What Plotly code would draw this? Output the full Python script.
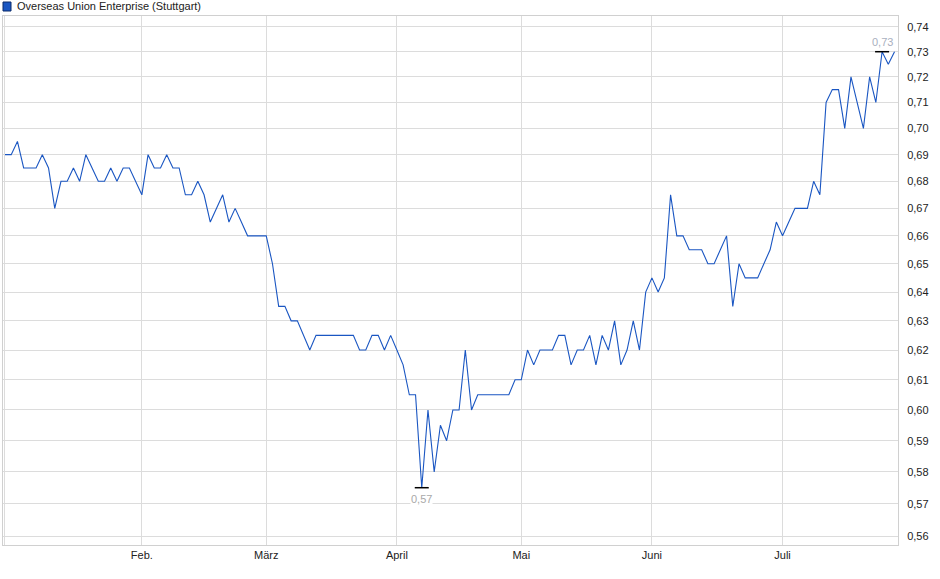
import math
import plotly.graph_objects as go

title = "Overseas Union Enterprise (Stuttgart)"

prices = [
    0.69, 0.69, 0.695, 0.685, 0.685, 0.685, 0.69, 0.685, 0.67, 0.68,
    0.68, 0.685, 0.68, 0.69, 0.685, 0.68, 0.68, 0.685, 0.68, 0.685,
    0.685, 0.68, 0.675, 0.69, 0.685, 0.685, 0.69, 0.685, 0.685, 0.675,
    0.675, 0.68, 0.675, 0.665, 0.67, 0.675, 0.665, 0.67, 0.665, 0.66,
    0.66, 0.66, 0.66, 0.65, 0.635, 0.635, 0.63, 0.63, 0.625, 0.62,
    0.625, 0.625, 0.625, 0.625, 0.625, 0.625, 0.625, 0.62, 0.62, 0.625,
    0.625, 0.62, 0.625, 0.62, 0.615, 0.605, 0.605, 0.575, 0.60, 0.58,
    0.595, 0.59, 0.60, 0.60, 0.62, 0.60, 0.605, 0.605, 0.605, 0.605,
    0.605, 0.605, 0.61, 0.61, 0.62, 0.615, 0.62, 0.62, 0.62, 0.625,
    0.625, 0.615, 0.62, 0.62, 0.625, 0.615, 0.625, 0.62, 0.63, 0.615,
    0.62, 0.63, 0.62, 0.64, 0.645, 0.64, 0.645, 0.675, 0.66, 0.66,
    0.655, 0.655, 0.655, 0.65, 0.65, 0.655, 0.66, 0.635, 0.65, 0.645,
    0.645, 0.645, 0.65, 0.655, 0.665, 0.66, 0.665, 0.67, 0.67, 0.67,
    0.68, 0.675, 0.71, 0.715, 0.715, 0.70, 0.72, 0.71, 0.70, 0.72,
    0.71, 0.73, 0.725, 0.73,
]

month_labels = ["", "Feb.", "März", "April", "Mai", "Juni", "Juli"]
month_start_idx = [0, 22, 42, 63, 83, 104, 125]

y_ticks = [0.56, 0.57, 0.58, 0.59, 0.60, 0.61, 0.62, 0.63, 0.64, 0.65,
           0.66, 0.67, 0.68, 0.69, 0.70, 0.71, 0.72, 0.73, 0.74]

x = list(range(len(prices)))
pmin = min(prices)
pmax = max(prices)
imin = prices.index(pmin)
imax = prices.index(pmax)

LINE = "#1a56c2"
GRID = "#dcdcdc"
FONT = "Liberation Sans, Arial, sans-serif"

fig = go.Figure()
fig.add_trace(go.Scatter(
    x=x, y=prices, mode="lines",
    line=dict(color=LINE, width=1.1),
    showlegend=False, hoverinfo="skip",
))
fig.add_trace(go.Scatter(
    x=[imin, imax], y=[pmin, pmax], mode="markers",
    marker=dict(symbol="line-ew", size=10, color="black",
                line=dict(color="black", width=1.5)),
    showlegend=False, hoverinfo="skip",
))

def fmt(v):
    return f"{v:.2f}".replace(".", ",")

fig.add_annotation(x=imin, y=math.log10(pmin), text=fmt(pmin), showarrow=False,
                   yshift=-11, font=dict(family=FONT, size=11, color="#a9a9a9"),
                   bgcolor="white", borderpad=0)
fig.add_annotation(x=imax, y=math.log10(pmax), text=fmt(pmax), showarrow=False,
                   yshift=10, font=dict(family=FONT, size=11, color="#a9b0c0"),
                   bgcolor="white", borderpad=0)

# legend-like header
fig.add_shape(type="rect", xref="paper", yref="paper",
              x0=0.0, x1=8 / 895, y0=1 + 5 / 529, y1=1 + 14 / 529,
              fillcolor="#1a56c2", line=dict(color="#0a2a6a", width=1))
fig.add_annotation(xref="paper", yref="paper", x=12 / 895, y=1 + 9.5 / 529,
                   text=title, showarrow=False, xanchor="left", yanchor="middle",
                   font=dict(family=FONT, size=11, color="#222222"))

fig.update_layout(
    width=940, height=579,
    margin=dict(l=3, r=42, t=16, b=34, autoexpand=False),
    paper_bgcolor="white", plot_bgcolor="white",
    separators=",.",
    font=dict(family=FONT, size=11, color="#222222"),
    xaxis=dict(
        range=[-0.32, 143.56], automargin=False,
        tickmode="array", tickvals=month_start_idx, ticktext=month_labels,
        showgrid=True, gridcolor=GRID, gridwidth=1,
        showline=True, linecolor="#d0d0d0", linewidth=1, mirror=True,
        ticks="", ticklabelstandoff=0, zeroline=False,
        tickfont=dict(family=FONT, size=11, color="#222222"),
    ),
    yaxis=dict(
        type="log", automargin=False,
        range=[math.log10(0.56) - 9 / 4206, math.log10(0.74) + 10.85 / 4206],
        tickmode="array", tickvals=y_ticks, tickformat=".2f",
        side="right",
        showgrid=True, gridcolor=GRID, gridwidth=1,
        showline=True, linecolor="#d0d0d0", linewidth=1, mirror=True,
        ticks="", ticklabelstandoff=6, zeroline=False,
        tickfont=dict(family=FONT, size=11, color="#222222"),
    ),
)

fig.write_html("out.html", config={"displayModeBar": False},
               post_script="document.body.style.margin='0';document.body.style.padding='0';")
